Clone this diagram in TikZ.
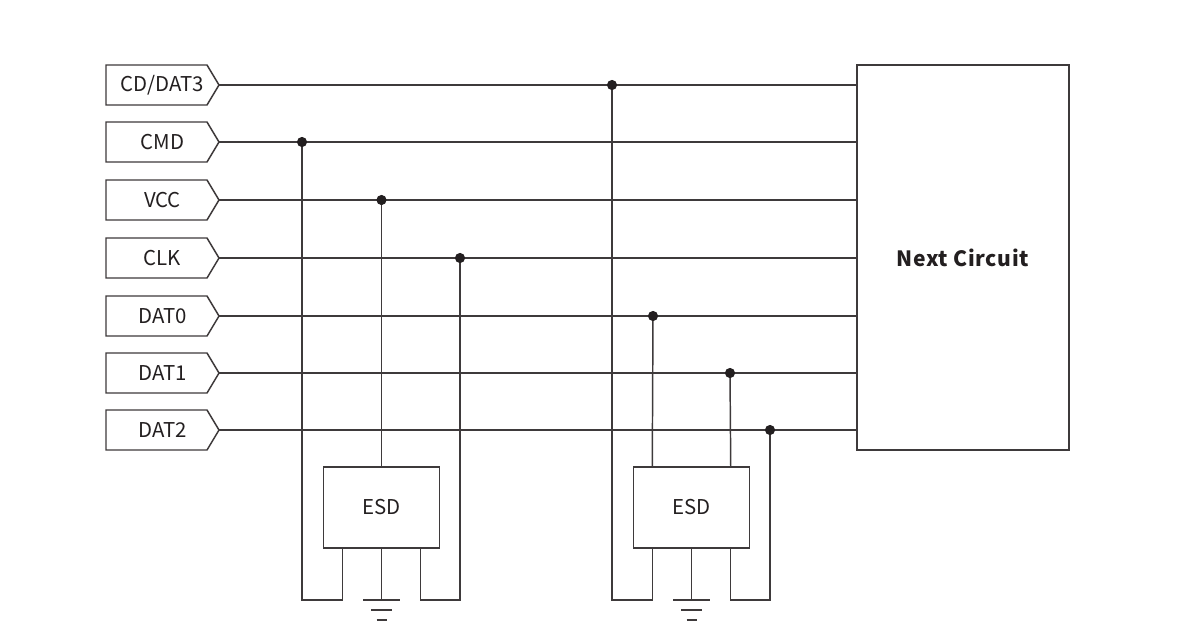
\documentclass[tikz,border=0pt]{standalone}
\usepackage{fontspec}
\setmainfont{Noto Sans CJK SC}
\usetikzlibrary{calc}
\definecolor{linec}{HTML}{3E3A3B}
\definecolor{textc}{HTML}{231F20}
\begin{document}
\begin{tikzpicture}[x=0.75pt,y=-0.75pt,
  wire/.style={draw=linec,line width=1.1pt},
  lab/.style={inner sep=0pt,text=textc,font=\fontsize{15.3}{18}\selectfont},
  dot/.style={circle,fill=textc,inner sep=0pt,minimum size=7pt},
  boxn/.style={draw=linec,line width=1.1pt,fill=white,rectangle,inner sep=0pt,text=textc,font=\fontsize{15.3}{18}\selectfont},
]
\useasboundingbox[fill=white] (0,0) rectangle (1200,643);
\coordinate (floor) at (0,600);

% Next circuit
\node[boxn,minimum width={212*0.75pt},minimum height={385*0.75pt},font=\fontsize{15.8}{18}\selectfont\bfseries\addfontfeature{LetterSpace=3}] (nc) at (963,257.5) {Next Circuit};

% ESD boxes
\node[boxn,minimum width={116*0.75pt},minimum height={81*0.75pt}] (esda) at (381.5,507.5) {ESD};
\node[boxn,minimum width={116*0.75pt},minimum height={81*0.75pt}] (esdb) at (691.5,507.5) {ESD};

% labels and horizontal wires
\foreach \n/\t/\y in {cd/{CD/DAT3}/85,cmd/CMD/142,vcc/VCC/200,clk/CLK/258,d0/DAT0/316,d1/DAT1/373,d2/DAT2/430}{
  \node[lab] (\n) at (162.5,\y) {\t};
  \coordinate (\n-tip) at (219,\y);
  \draw[wire,line join=miter] ($(\n.center)+(-56.5,-20)$) -- ++(101,0) -- (\n-tip) -- ++(-12,20) -- ++(-101,0) -- cycle;
  \draw[wire] (\n-tip) -- (nc.west |- \n-tip);
}

% junctions
\node[dot] (jcd) at (612,85) {};
\node[dot] (jcmd) at (302,142) {};
\node[dot] (jvcc) at (381.5,200) {};
\node[dot] (jclk) at (460,258) {};
\node[dot] (jd0) at (653,316) {};
\node[dot] (jd1) at (730,373) {};
\node[dot] (jd2) at (770,430) {};

% ESD legs
\coordinate (abl) at ($(esda.south west)+(19.5,0)$);
\coordinate (abr) at ($(esda.south east)+(-19.5,0)$);
\coordinate (bbl) at ($(esdb.south west)+(19.5,0)$);
\coordinate (bbr) at ($(esdb.south east)+(-19.5,0)$);
\coordinate (btl) at ($(esdb.north west)+(19.5,0)$);
\coordinate (btr) at ($(esdb.north east)+(-19.5,0)$);

% verticals
\draw[wire] (jcmd.center) -- (jcmd |- floor) -- (abl |- floor) -- (abl);
\draw[wire] (jvcc.center) -- (esda.north);
\draw[wire] (jclk.center) -- (jclk |- floor) -- (abr |- floor) -- (abr);
\draw[wire] (jcd.center) -- (jcd |- floor) -- (bbl |- floor) -- (bbl);
\draw[wire] (jd0.center) -- (btl);
\draw[wire] (jd1.center) -- (btr);
\draw[wire] (jd2.center) -- (jd2 |- floor) -- (bbr |- floor) -- (bbr);

% grounds
\foreach \e in {esda,esdb}{
  \draw[wire] (\e.south) -- (\e.south |- floor) coordinate (g-\e);
  \draw[wire] ($(g-\e)+(-18.5,0)$) -- ++(37,0);
  \draw[wire] ($(g-\e)+(-10.5,10)$) -- ++(21,0);
  \draw[wire] ($(g-\e)+(-5,20)$) -- ++(10,0);
}

% dots on top
\foreach \j in {jcd,jcmd,jvcc,jclk,jd0,jd1,jd2}{
  \fill[textc] (\j) circle[radius=3.8pt];
}
\end{tikzpicture}
\end{document}
